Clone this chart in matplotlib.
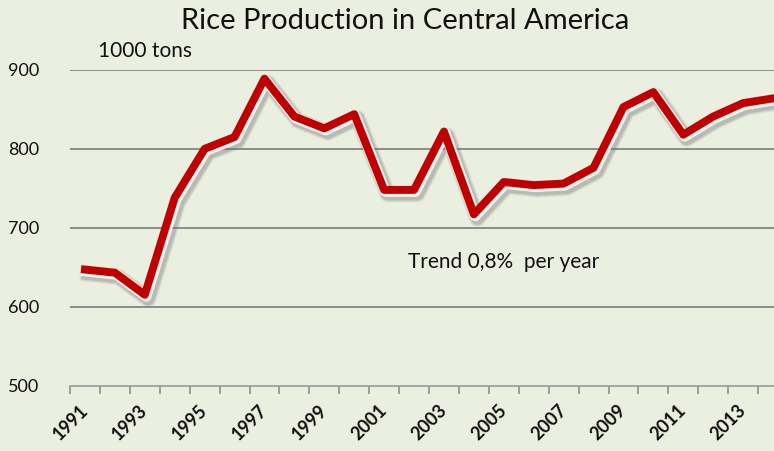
import numpy as np
import matplotlib
matplotlib.use("Agg")
import matplotlib.pyplot as plt
import matplotlib.patheffects as pe

# Rice production, Central America (1000 tons)
years = list(range(1991, 2015))
production = [647, 643, 615, 738, 800, 815, 889, 841, 826, 844,
              748, 748, 822, 717, 758, 754, 756, 776, 853, 872,
              818, 841, 858, 864]
year_labels = [str(y) if (y - 1991) % 2 == 0 else "" for y in years]
y_ticks = [500, 600, 700, 800, 900]

bg = "#ebefdf"
red = "#c00000"

plt.rcParams['font.family'] = ['Lato', 'DejaVu Sans']

fig = plt.figure(figsize=(7.74, 4.51), dpi=100, facecolor=bg)
# axes run a bit past the right edge, as in the cropped original
ax = fig.add_axes([70 / 774, 65.5 / 451, 718 / 774, 315.5 / 451])
ax.set_facecolor(bg)

# soft shadow: a few stacked gray strokes, then a white rim
shadow = []
for lw, a in [(12, 0.10), (10.5, 0.15), (9, 0.22)]:
    shadow.append(pe.SimpleLineShadow(offset=(2.5, -3), shadow_color='#707070', alpha=a, linewidth=lw))
shadow.append(pe.SimpleLineShadow(offset=(1, -1.2), shadow_color='white', alpha=0.85, linewidth=7.6))
shadow.append(pe.Normal())

x = np.arange(len(years))
ax.plot(x, production, color=red, lw=5.7, zorder=3, path_effects=shadow)

ax.set_xlim(-0.5, len(years) - 0.5)
ax.set_ylim(500, 900)

# y axis: gridlines, no spine
ax.set_yticks(y_ticks)
ax.set_yticklabels([str(v) for v in y_ticks])
for v in y_ticks[1:]:
    ax.axhline(v, color='#858585', lw=1.3, zorder=1)
ax.tick_params(axis='y', length=0, pad=22, labelsize=13, labelcolor='#111111')

# x axis: tick marks between categories, labels every other year
ax.set_xticks(x)
ax.set_xticklabels(year_labels, rotation=45, ha='right', va='center',
                   rotation_mode='anchor', fontsize=13, fontweight='bold', color='#111111')
ax.tick_params(axis='x', which='major', length=0, pad=16)
ax.set_xticks(np.arange(-0.5, len(years)), minor=True)
ax.tick_params(axis='x', which='minor', length=6, width=1.2, color='#909090', direction='out')

for s in ['top', 'left', 'right']:
    ax.spines[s].set_visible(False)
ax.spines['bottom'].set_color('#9a9a9a')
ax.spines['bottom'].set_linewidth(1.2)

fig.text(405 / 774, 1 - 21 / 451, "Rice Production in Central America",
         ha='center', va='center', fontsize=21, color='#111111')
fig.text(98 / 774, 1 - 51 / 451, "1000 tons", ha='left', va='center',
         fontsize=15, color='#111111')
ax.text(10.8, 657, "Trend 0,8%  per year", ha='left', va='center',
        fontsize=15, color='#111111')

fig.savefig("out.png", dpi=100, facecolor=bg)
